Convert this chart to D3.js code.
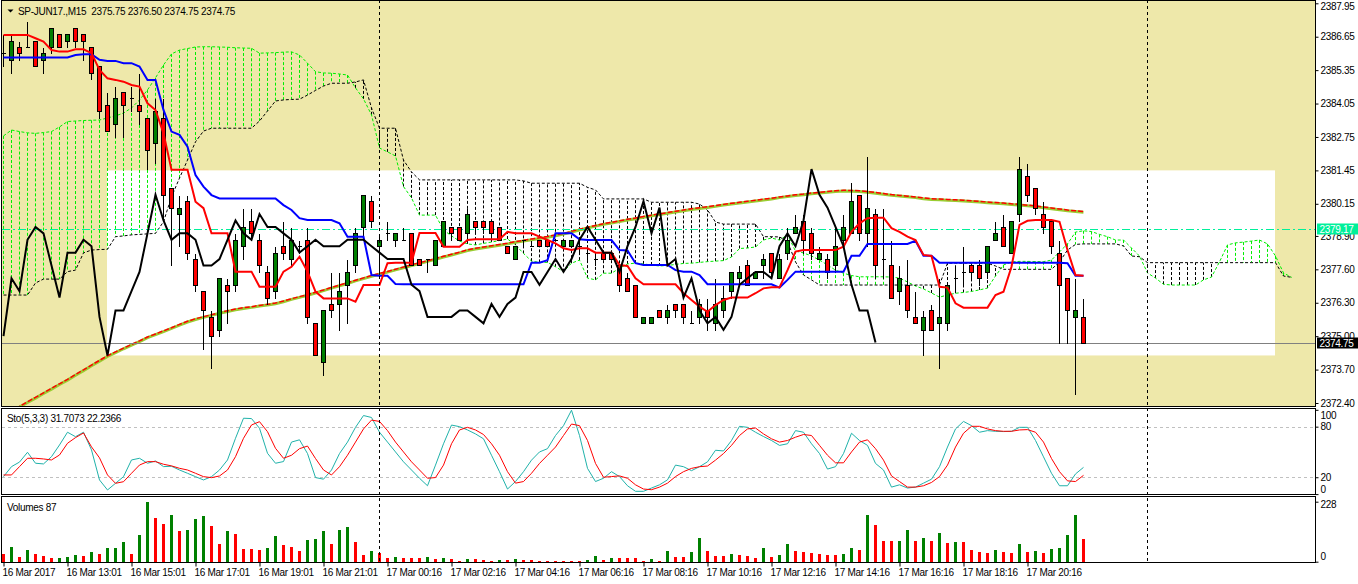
<!DOCTYPE html>
<html lang="en">
<head>
<meta charset="UTF-8">
<title>SP-JUN17.,M15</title>
<script src="https://d3js.org/d3.v7.min.js"></script>
<style>
  body { margin: 0; background: #fff; overflow: hidden; }
  svg text { font-family: "Liberation Sans", Arial, sans-serif; font-size: 10px; letter-spacing: -0.3px; fill: #000; }
</style>
</head>
<body>
<script>
// M15 bars, 16 Mar 2017 11:01 .. 17 Mar 2017 20:46
const open = [2386.00,2385.75,2386.25,2386.25,2386.50,2385.75,2386.25,2386.75,2386.50,2387.00,
  2386.75,2386.25,2385.50,2384.00,2383.25,2384.50,2384.25,2384.00,2383.50,2382.50,
  2383.50,2380.75,2379.75,2380.25,2378.00,2376.75,2375.75,2375.25,2377.00,2377.00,
  2378.50,2379.50,2378.75,2377.50,2376.75,2378.50,2378.00,2378.50,2378.75,2375.50,
  2374.00,2376.25,2376.25,2377.00,2377.75,2379.25,2380.25,2378.50,2379.00,2378.75,
  2378.75,2379.00,2378.00,2378.00,2377.75,2378.50,2379.25,2379.25,2379.00,2379.50,
  2379.50,2379.50,2379.25,2378.50,2378.00,2378.75,2378.50,2378.75,2378.75,2378.75,
  2378.50,2378.50,2378.50,2378.25,2378.00,2378.25,2378.25,2377.75,2377.25,2377.00,
  2375.50,2375.50,2376.00,2375.75,2376.25,2376.25,2375.50,2375.75,2376.00,2375.50,
  2376.00,2376.75,2377.25,2377.75,2377.25,2377.75,2378.25,2377.25,2378.25,2379.00,
  2379.50,2379.00,2378.00,2378.00,2377.75,2378.75,2379.00,2380.50,2379.00,2379.75,
  2378.00,2377.75,2376.75,2377.00,2375.75,2375.25,2376.00,2375.50,2375.50,2377.25,
  2377.50,2377.75,2377.75,2377.50,2378.75,2379.25,2378.25,2379.75,2381.25,2380.75,
  2379.75,2379.50,2378.25,2377.25,2375.75,2375.75];
const high = [2386.75,2386.75,2386.50,2387.25,2386.50,2386.25,2387.00,2386.75,2386.75,2387.00,
  2386.75,2386.25,2385.50,2384.50,2384.75,2384.50,2384.75,2385.25,2383.50,2384.25,
  2384.25,2380.75,2380.50,2380.50,2378.25,2376.75,2376.00,2377.25,2377.25,2379.00,
  2380.00,2380.00,2379.00,2377.75,2378.50,2379.50,2379.25,2378.75,2379.25,2375.50,
  2376.00,2377.50,2377.50,2378.00,2379.25,2380.50,2380.50,2379.00,2379.50,2379.00,
  2379.25,2379.00,2378.00,2378.00,2378.75,2379.50,2379.25,2379.25,2380.00,2379.50,
  2379.50,2379.50,2379.25,2378.50,2378.50,2378.75,2378.75,2378.75,2378.75,2378.75,
  2378.75,2378.75,2378.75,2378.50,2378.25,2378.25,2378.25,2377.75,2377.50,2377.00,
  2375.75,2375.75,2376.00,2376.25,2376.25,2376.25,2376.00,2376.50,2376.50,2377.25,
  2377.00,2377.50,2377.75,2378.00,2377.50,2378.25,2378.25,2378.25,2379.25,2379.75,
  2379.75,2379.25,2378.50,2378.25,2379.25,2379.75,2381.00,2380.50,2382.00,2380.00,
  2380.00,2378.75,2377.75,2378.00,2376.75,2376.00,2376.25,2377.25,2377.00,2377.75,
  2378.50,2377.75,2378.00,2378.50,2379.50,2379.75,2379.50,2382.00,2381.75,2380.75,
  2380.25,2379.50,2378.75,2377.25,2377.25,2376.50];
const low = [2385.50,2385.25,2385.75,2386.25,2385.50,2385.25,2386.00,2386.25,2386.25,2386.25,
  2385.75,2385.00,2383.50,2383.00,2382.75,2382.75,2383.75,2383.25,2381.50,2381.75,
  2379.50,2377.75,2378.50,2378.00,2376.75,2374.50,2373.75,2375.00,2375.50,2376.75,
  2378.00,2378.75,2377.50,2376.25,2376.50,2378.00,2377.75,2378.25,2375.50,2374.25,
  2373.50,2375.75,2375.25,2375.50,2377.50,2378.75,2379.25,2377.25,2378.75,2378.50,
  2378.75,2377.75,2377.75,2377.50,2377.75,2378.50,2378.75,2378.75,2378.75,2379.00,
  2379.00,2378.75,2378.75,2378.25,2378.00,2378.50,2378.50,2378.50,2378.50,2378.75,
  2378.50,2378.50,2378.25,2378.00,2377.75,2378.00,2378.00,2376.75,2376.75,2375.75,
  2375.50,2375.50,2375.75,2375.50,2375.75,2375.50,2375.50,2375.50,2375.25,2375.25,
  2375.75,2376.50,2377.00,2377.00,2377.25,2377.25,2377.25,2377.25,2378.00,2379.00,
  2378.25,2378.00,2378.00,2377.25,2377.50,2378.50,2379.00,2378.75,2378.50,2377.25,
  2377.25,2376.50,2376.25,2375.75,2375.50,2374.25,2375.25,2373.75,2375.25,2376.75,
  2377.00,2377.25,2377.00,2377.25,2378.75,2378.50,2378.25,2379.50,2380.25,2379.75,
  2379.00,2378.25,2374.75,2374.75,2372.75,2374.75];
const close = [2386.00,2386.50,2386.00,2386.25,2385.50,2386.00,2387.00,2386.25,2386.75,2386.50,
  2386.50,2385.25,2383.75,2383.00,2384.25,2384.00,2384.25,2383.75,2382.25,2383.75,
  2380.50,2380.00,2380.00,2378.25,2377.00,2376.00,2375.00,2377.25,2376.75,2378.75,
  2379.25,2379.00,2377.75,2376.50,2378.25,2378.25,2378.75,2378.50,2375.75,2374.25,
  2376.00,2376.00,2376.75,2377.50,2379.00,2380.50,2379.50,2378.75,2379.00,2379.00,
  2378.75,2377.75,2377.75,2378.00,2378.75,2379.50,2379.00,2378.75,2379.75,2379.25,
  2379.25,2379.00,2378.75,2378.25,2378.50,2378.75,2378.50,2378.50,2378.50,2378.75,
  2378.75,2378.75,2378.50,2378.25,2378.00,2378.00,2378.00,2377.00,2376.75,2375.75,
  2375.75,2375.75,2375.75,2376.00,2376.00,2375.75,2375.50,2376.25,2375.75,2376.25,
  2376.50,2377.50,2377.50,2377.00,2377.50,2378.00,2377.50,2378.00,2378.75,2379.25,
  2378.75,2378.25,2378.25,2377.50,2378.50,2379.25,2380.25,2379.00,2380.00,2377.75,
  2378.00,2376.50,2377.25,2376.00,2375.50,2375.75,2375.25,2375.75,2377.00,2377.25,
  2377.50,2377.50,2377.25,2378.50,2379.00,2378.50,2379.50,2381.50,2380.50,2380.00,
  2379.25,2378.50,2377.00,2376.00,2376.00,2374.75];
const volume = [29,56,18,44,29,22,14,15,18,25,
  22,37,29,52,53,75,29,101,228,166,
  143,177,117,120,162,174,136,67,117,105,
  48,48,44,52,98,63,54,39,84,88,
  115,69,122,130,73,24,39,32,14,16,
  15,14,13,16,9,13,12,4,12,9,
  5,4,5,5,12,5,5,4,4,4,
  4,4,4,5,20,5,13,13,13,13,
  4,9,4,39,17,16,38,91,41,20,
  20,31,24,20,13,52,17,27,66,41,
  38,34,31,27,27,31,52,45,176,140,
  77,77,80,119,77,91,80,109,70,73,
  73,45,38,34,45,38,34,66,38,41,
  34,48,52,101,179,87];

// Ichimoku lines
const tenkan = [2386.72,2386.72,2386.72,2386.72,2386.59,2386.46,2386.13,2386.07,2386.07,2386.16,
  2386.16,2386.01,2385.36,2385.03,2384.97,2384.90,2384.77,2384.71,2384.06,2383.80,
  2382.89,2381.47,2381.47,2381.47,2380.23,2379.98,2379.00,2379.00,2379.00,2377.51,
  2377.51,2377.51,2376.92,2376.92,2376.92,2377.51,2377.70,2378.09,2377.51,2376.73,
  2376.47,2376.47,2376.47,2376.47,2376.34,2376.99,2376.99,2376.99,2377.84,2377.86,
  2377.86,2377.86,2379.01,2379.01,2379.01,2378.48,2378.48,2378.48,2378.74,2378.77,
  2378.77,2378.77,2378.77,2379.06,2379.00,2379.00,2379.00,2378.87,2378.74,2378.61,
  2378.42,2378.35,2378.42,2378.42,2378.25,2378.25,2378.25,2377.77,2377.73,2377.25,
  2377.02,2377.02,2377.02,2377.02,2377.02,2376.67,2376.41,2376.15,2375.95,2376.21,
  2376.41,2376.50,2376.50,2376.50,2376.67,2376.86,2376.90,2376.90,2377.57,2378.29,
  2378.35,2378.35,2378.35,2378.35,2378.35,2378.48,2379.06,2379.39,2379.59,2379.61,
  2379.61,2379.20,2379.06,2378.87,2378.74,2378.16,2378.12,2376.92,2376.89,2376.28,
  2376.11,2376.11,2376.11,2376.11,2376.60,2376.73,2377.70,2379.33,2379.49,2379.52,
  2379.52,2379.52,2379.45,2378.35,2377.38,2377.35];
const kijun = [2385.84,2385.84,2385.84,2385.84,2385.84,2385.84,2385.84,2385.84,2385.84,2385.94,
  2385.97,2385.97,2385.75,2385.71,2385.71,2385.62,2385.62,2385.49,2384.97,2384.97,
  2383.80,2382.96,2382.83,2382.37,2381.27,2380.82,2380.49,2380.36,2380.36,2380.36,
  2380.36,2380.36,2380.36,2380.36,2380.36,2380.10,2379.91,2379.59,2379.52,2379.52,
  2379.52,2379.52,2379.39,2378.87,2378.87,2378.87,2377.38,2377.35,2377.35,2377.03,
  2377.02,2377.02,2377.02,2377.02,2377.02,2377.02,2377.02,2377.02,2377.02,2377.02,
  2377.02,2377.02,2377.02,2377.02,2377.02,2377.02,2377.86,2377.86,2377.96,2379.00,
  2379.00,2379.00,2378.77,2378.74,2378.74,2378.74,2378.74,2378.35,2378.33,2377.84,
  2377.77,2377.77,2377.77,2377.77,2377.57,2377.51,2377.51,2377.38,2377.02,2377.02,
  2377.02,2377.02,2377.02,2377.02,2377.02,2377.02,2377.02,2376.89,2377.19,2377.51,
  2377.51,2377.51,2377.51,2377.51,2377.51,2377.51,2378.13,2378.13,2378.59,2378.59,
  2378.59,2378.59,2378.59,2378.59,2378.71,2378.13,2378.13,2377.86,2377.86,2377.86,
  2377.86,2377.86,2377.86,2377.86,2377.86,2377.86,2377.86,2377.86,2377.86,2377.86,
  2377.86,2377.86,2377.86,2377.84,2377.35,2377.35];
// senkou spans run 26 bars past the last candle
const senkouA = [2382.79,2383.02,2382.96,2382.91,2382.89,2382.92,2382.96,2383.14,2383.35,2383.37,
  2383.39,2383.40,2383.41,2383.49,2383.57,2383.68,2383.88,2384.19,2384.58,2385.05,
  2385.55,2385.98,2386.13,2386.19,2386.25,2386.26,2386.26,2386.25,2386.24,2386.22,
  2386.21,2386.20,2386.01,2386.02,2386.03,2386.05,2386.06,2385.94,2385.62,2385.29,
  2385.24,2385.23,2385.20,2385.16,2384.66,2384.23,2383.61,2382.32,2382.17,2382.01,
  2380.82,2380.38,2379.71,2379.71,2379.71,2379.13,2378.90,2378.70,2378.59,2378.55,
  2378.61,2378.66,2378.72,2378.78,2378.55,2378.22,2377.92,2377.87,2377.87,2377.70,
  2377.51,2377.84,2377.96,2377.26,2377.19,2377.45,2377.45,2377.64,2377.81,2377.84,
  2377.81,2377.77,2377.73,2377.75,2377.79,2377.83,2377.84,2377.87,2377.90,2377.92,
  2377.94,2378.08,2378.41,2378.43,2378.47,2378.74,2378.82,2378.74,2378.94,2378.31,
  2378.24,2378.12,2377.96,2377.77,2377.57,2377.45,2377.36,2377.31,2377.31,2377.31,
  2377.31,2377.30,2377.26,2377.11,2376.95,2376.84,2376.68,2376.52,2376.60,2376.67,
  2376.70,2376.74,2376.80,2376.87,2377.34,2377.77,2377.89,2377.91,2377.91,2377.90,
  2377.90,2377.96,2378.28,2378.59,2379.05,2379.10,2379.07,2378.96,2378.87,2378.74,
  2378.74,2378.43,2378.12,2377.46,2377.26,2377.02,2376.99,2376.99,2376.99,2376.99,
  2377.19,2377.30,2377.89,2378.55,2378.63,2378.66,2378.70,2378.74,2378.59,2378.12,
  2377.46,2377.29];
const senkouB = [2376.60,2376.60,2376.60,2376.60,2377.07,2377.22,2377.22,2377.22,2377.51,2377.57,
  2378.24,2378.35,2378.37,2378.38,2378.87,2378.90,2378.94,2378.96,2378.98,2379.00,
  2379.45,2380.42,2381.15,2381.85,2382.56,2382.98,2383.09,2383.09,2383.09,2383.09,
  2383.09,2383.09,2383.37,2383.76,2384.15,2384.19,2384.21,2384.22,2384.38,2384.56,
  2384.73,2384.84,2384.84,2384.84,2384.89,2384.97,2383.88,2383.09,2383.09,2383.09,
  2381.85,2381.39,2381.08,2381.08,2381.08,2381.08,2381.08,2381.08,2381.08,2381.08,
  2381.08,2381.08,2381.08,2381.08,2381.08,2381.04,2380.95,2380.95,2380.95,2380.95,
  2380.95,2380.95,2380.95,2380.79,2380.69,2380.34,2380.34,2380.34,2380.34,2380.34,
  2380.34,2380.21,2380.21,2380.21,2380.21,2380.21,2380.21,2380.14,2379.91,2379.44,
  2379.36,2379.36,2379.36,2379.36,2379.36,2378.87,2378.87,2378.86,2378.68,2377.89,
  2377.38,2377.19,2376.99,2376.99,2376.99,2376.99,2376.99,2376.99,2376.99,2376.99,
  2376.99,2376.99,2376.99,2376.99,2376.99,2376.99,2376.99,2376.99,2377.84,2377.84,
  2377.84,2377.84,2377.84,2377.84,2377.73,2377.60,2377.60,2377.60,2377.60,2377.60,
  2377.60,2377.60,2377.89,2378.35,2378.57,2378.59,2378.59,2378.59,2378.59,2378.59,
  2378.51,2378.12,2378.09,2377.86,2377.86,2377.86,2377.86,2377.86,2377.86,2377.86,
  2377.86,2377.86,2377.86,2377.86,2377.86,2377.86,2377.86,2377.86,2377.86,2377.86,
  2377.34,2377.29];
const movingAvg = [2371.89,2372.09,2372.24,2372.42,2372.59,2372.77,2372.94,2373.12,2373.29,2373.48,
  2373.66,2373.85,2374.03,2374.21,2374.36,2374.51,2374.65,2374.79,2374.94,2375.06,
  2375.18,2375.30,2375.43,2375.55,2375.65,2375.73,2375.81,2375.89,2375.96,2376.03,
  2376.08,2376.12,2376.17,2376.21,2376.26,2376.34,2376.43,2376.51,2376.59,2376.68,
  2376.77,2376.87,2376.96,2377.05,2377.15,2377.24,2377.33,2377.41,2377.49,2377.58,
  2377.66,2377.75,2377.83,2377.91,2377.99,2378.08,2378.16,2378.24,2378.33,2378.39,
  2378.44,2378.49,2378.54,2378.59,2378.65,2378.70,2378.75,2378.80,2378.85,2378.91,
  2378.97,2379.05,2379.13,2379.21,2379.28,2379.35,2379.40,2379.46,2379.52,2379.57,
  2379.63,2379.68,2379.73,2379.78,2379.83,2379.88,2379.93,2379.97,2380.01,2380.05,
  2380.10,2380.14,2380.18,2380.22,2380.26,2380.30,2380.34,2380.39,2380.43,2380.47,
  2380.50,2380.54,2380.57,2380.60,2380.63,2380.65,2380.64,2380.63,2380.60,2380.56,
  2380.52,2380.48,2380.45,2380.42,2380.39,2380.35,2380.32,2380.31,2380.29,2380.28,
  2380.26,2380.24,2380.22,2380.19,2380.17,2380.15,2380.12,2380.10,2380.07,2380.04,
  2380.00,2379.96,2379.92,2379.88,2379.85,2379.82];

// Stochastic (5,3,3)
const stoMain = [20.7,32.6,38.0,49.6,36.6,35.8,44.4,58.3,73.4,68.1,
  73.4,52.4,16.8,4.9,12.8,20.7,40.5,42.5,36.6,39.3,
  32.6,33.0,28.6,24.7,20.7,16.8,20.7,28.6,40.5,66.2,
  90.0,89.6,78.1,48.4,36.6,38.6,61.7,64.4,48.1,19.6,
  17.7,28.6,48.1,61.7,79.2,93.2,90.9,73.4,61.7,50.0,
  38.3,28.6,18.8,9.9,34.4,59.7,81.9,80.0,76.1,71.4,
  65.6,46.1,26.6,6.0,14.9,26.6,40.3,50.0,53.9,69.5,
  81.2,99.5,69.5,30.5,14.9,18.8,26.6,20.8,9.9,3.3,
  3.3,7.2,11.0,16.9,34.4,32.5,27.8,32.5,38.3,52.0,
  51.2,63.6,80.4,79.2,73.4,68.3,63.6,57.8,59.7,75.3,
  73.4,59.7,48.1,29.7,32.5,48.1,72.2,63.6,57.8,36.4,
  28.6,8.3,11.0,7.2,8.3,13.0,17.7,32.5,55.8,77.3,
  86.2,81.2,73.4,75.3,74.5,74.2,74.5,79.2,79.2,63.6,
  44.2,24.7,9.9,9.9,23.9,31.7073];
const stoSignal = [22.7,22.7,32.6,42.5,42.5,41.7,40.5,46.4,60.3,67.0,
  72.5,56.0,43.0,22.7,12.8,14.7,24.7,34.5,38.5,38.5,
  35.4,33.5,30.6,28.6,24.7,20.7,19.5,21.5,28.6,44.4,
  66.2,82.0,85.9,74.0,54.3,42.5,46.1,53.9,57.0,42.2,
  28.6,22.7,32.5,46.1,61.7,77.3,87.8,86.2,75.3,61.7,
  50.0,38.3,28.6,18.8,19.6,34.4,59.7,76.1,79.2,76.1,
  70.7,59.7,46.1,26.6,13.0,14.9,24.7,36.4,46.1,55.8,
  69.5,83.1,81.2,63.6,36.4,20.0,20.8,21.6,18.8,11.0,
  6.0,5.2,8.3,13.0,20.8,26.6,30.5,32.5,33.3,40.3,
  48.1,57.8,69.5,77.3,78.4,71.4,65.6,61.7,63.6,67.5,
  70.7,69.5,57.8,46.1,37.1,37.1,50.0,61.7,64.4,53.9,
  40.3,21.6,14.9,8.3,8.3,9.9,13.8,20.8,34.4,55.8,
  72.2,80.4,80.4,77.3,75.3,74.5,74.5,76.1,76.5,73.4,
  61.7,42.2,26.6,15.7,14.9,22.2366];

// axis labels
const priceTicks = [2387.95,2386.65,2385.35,2384.05,2382.75,2381.45,2380.15,2378.90,2377.60,2376.30,2375.00,2373.70,2372.40];
const timeTicks = [0,8,16,24,32,40,48,56,64,72,80,88,96,104,112,120,128];
const timeLabels = ["16 Mar 2017","16 Mar 13:01","16 Mar 15:01","16 Mar 17:01","16 Mar 19:01","16 Mar 21:01",
  "17 Mar 00:16","17 Mar 02:16","17 Mar 04:16","17 Mar 06:16","17 Mar 08:16","17 Mar 10:16",
  "17 Mar 12:16","17 Mar 14:16","17 Mar 16:16","17 Mar 18:16","17 Mar 20:16"];
const stoLevels = [100, 80, 20, 0];
const volTicks = [228, 0];

// chart objects
const bidPrice = 2374.75;
const hLinePrice = 2379.17;
const separatorBars = [47, 143];
const boxBars = [13, 159];
const boxPrices = [2374.25, 2381.45];
const shift = 26;

// ---- layout ----
const W = 1358, H = 584;
const L = 2, R = 1315;
const mainTop = 1, mainBottom = 406;
const stoTop = 409, stoBottom = 494;
const volTop = 497, volBottom = 562;

const svg = d3.select("body").append("svg").attr("width", W).attr("height", H);

const x = d3.scaleLinear().domain([0, 161]).range([3.5, 3.5 + 8 * 161]);
const y = d3.scaleLinear().domain([2372.40, 2387.95]).range([403, 3.3]);
const yS = d3.scaleLinear().domain([0, 100]).range([494.1, 409.8]);
const yV = d3.scaleLinear().domain([0, 228]).range([561.7, 501.7]);

const defs = svg.append("defs");
[["main", mainTop, mainBottom], ["sto", stoTop, stoBottom], ["vol", volTop, volBottom]].forEach(([id, t, b]) => {
  defs.append("clipPath").attr("id", "clip-" + id)
    .append("rect").attr("x", L).attr("y", t).attr("width", R - L).attr("height", b - t);
});

svg.append("rect").attr("x", L).attr("y", mainTop).attr("width", R - L).attr("height", mainBottom - mainTop)
  .attr("fill", "#EEE8AA");

const gm = svg.append("g").attr("clip-path", "url(#clip-main)");

// white rectangle object
gm.append("rect")
  .attr("x", x(boxBars[0]) - 0.5).attr("width", x(boxBars[1]) - x(boxBars[0]))
  .attr("y", y(boxPrices[1])).attr("height", y(boxPrices[0]) - y(boxPrices[1]))
  .attr("fill", "#fff");

// kumo hatching
const cloudIdx = d3.range(senkouA.length);
gm.append("g").selectAll("line").data(cloudIdx).join("line")
  .attr("x1", i => x(i)).attr("x2", i => x(i))
  .attr("y1", i => y(senkouA[i])).attr("y2", i => y(senkouB[i]))
  .attr("stroke", i => senkouA[i] >= senkouB[i] ? "#00EE00" : "#000")
  .attr("stroke-dasharray", "3,2");

const lineOf = sc => d3.line().x((d, i) => x(i)).y(d => sc(d));

gm.append("path").attr("d", lineOf(y)(senkouA)).attr("fill", "none")
  .attr("stroke", "#00EE00").attr("stroke-dasharray", "3,2");
gm.append("path").attr("d", lineOf(y)(senkouB)).attr("fill", "none")
  .attr("stroke", "#000").attr("stroke-dasharray", "3,2");

// moving average (double line)
gm.append("path").attr("d", lineOf(y)(movingAvg)).attr("fill", "none")
  .attr("stroke", "#9ACD32").attr("stroke-width", 3);
gm.append("path").attr("d", lineOf(y)(movingAvg)).attr("fill", "none")
  .attr("stroke", "#FF0000").attr("stroke-width", 1.5).attr("stroke-dasharray", "5,2")
  .attr("transform", "translate(0,-0.7)");

// horizontal lines
gm.append("line").attr("x1", L).attr("x2", R)
  .attr("y1", Math.round(y(hLinePrice)) + 0.5).attr("y2", Math.round(y(hLinePrice)) + 0.5)
  .attr("stroke", "#00F09A").attr("stroke-dasharray", "8,3,2,3");
gm.append("line").attr("x1", L).attr("x2", R)
  .attr("y1", Math.round(y(bidPrice)) + 0.5).attr("y2", Math.round(y(bidPrice)) + 0.5)
  .attr("stroke", "#808080");

// candles
const bars = d3.range(open.length);
const py = v => Math.round(y(v)) + 0.5;
const cg = gm.append("g").attr("shape-rendering", "crispEdges");
cg.selectAll("line.wick").data(bars).join("line").attr("class", "wick")
  .attr("x1", i => x(i)).attr("x2", i => x(i))
  .attr("y1", i => py(high[i])).attr("y2", i => py(low[i]))
  .attr("stroke", "#000");
cg.selectAll("path.body").data(bars).join("path").attr("class", "body")
  .attr("d", i => {
    const t = py(Math.max(open[i], close[i])), b = py(Math.min(open[i], close[i]));
    return `M${x(i) - 2},${t}H${x(i) + 2}V${b}H${x(i) - 2}Z`;
  })
  .attr("fill", i => close[i] > open[i] ? "#008000" : (close[i] < open[i] ? "#FF0000" : "none"))
  .attr("stroke", "#000");

// kijun, tenkan, chikou
gm.append("path").attr("d", lineOf(y)(kijun)).attr("fill", "none")
  .attr("stroke", "#0000FF").attr("stroke-width", 2);
gm.append("path").attr("d", lineOf(y)(tenkan)).attr("fill", "none")
  .attr("stroke", "#FF0000").attr("stroke-width", 2);
gm.append("path").attr("d", lineOf(y)(close.slice(shift))).attr("fill", "none")
  .attr("stroke", "#000").attr("stroke-width", 2);

// ---- stochastic pane ----
const gs = svg.append("g").attr("clip-path", "url(#clip-sto)");
gs.selectAll("line.lvl").data([80, 20]).join("line").attr("class", "lvl")
  .attr("x1", L).attr("x2", R)
  .attr("y1", d => Math.round(yS(d)) + 0.5).attr("y2", d => Math.round(yS(d)) + 0.5)
  .attr("stroke", "#C0C0C0").attr("stroke-dasharray", "3,3");
gs.append("path").attr("d", lineOf(yS)(stoMain)).attr("fill", "none").attr("stroke", "#20B2AA");
gs.append("path").attr("d", lineOf(yS)(stoSignal)).attr("fill", "none").attr("stroke", "#FF0000");

// ---- volume pane ----
const gv = svg.append("g").attr("clip-path", "url(#clip-vol)").attr("shape-rendering", "crispEdges");
gv.selectAll("rect").data(bars).join("rect")
  .attr("x", i => x(i) - 1.5).attr("width", 3)
  .attr("y", i => Math.round(yV(volume[i])))
  .attr("height", i => Math.max(1, Math.round(yV(0)) - Math.round(yV(volume[i]))))
  .attr("fill", i => i > 0 && volume[i] > volume[i - 1] ? "#008000" : "#FF0000");

// period separators
svg.append("g").selectAll("line").data(separatorBars).join("line")
  .attr("x1", d => x(d)).attr("x2", d => x(d)).attr("y1", 0).attr("y2", volBottom)
  .attr("stroke", "#000").attr("stroke-dasharray", "3,3");

// pane borders
const frame = svg.append("g").attr("fill", "none").attr("stroke", "#000").attr("shape-rendering", "crispEdges");
[[0, mainBottom], [stoTop - 1, stoBottom], [volTop - 1, volBottom]].forEach(([t, b]) => {
  frame.append("rect").attr("x", L - 0.5).attr("y", t + 0.5).attr("width", R - L + 1).attr("height", b - t);
});

// ---- axes ----
const priceAxis = svg.append("g").attr("transform", `translate(${R + 0.5},0)`)
  .call(d3.axisRight(y).tickValues(priceTicks).tickSize(3).tickPadding(2).tickFormat(d3.format(".2f")));
// keep the top label inside the window, as the terminal does
priceAxis.selectAll(".tick text").attr("dy", d => d === priceTicks[0] ? "0.6em" : "0.32em");
const stoAxis = svg.append("g").attr("transform", `translate(${R + 0.5},0)`)
  .call(d3.axisRight(yS).tickValues(stoLevels).tickSize(3).tickPadding(2));
stoAxis.selectAll(".tick text").attr("dy", d => d === 100 ? "0.85em" : (d === 0 ? "-0.15em" : "0.32em"));
const volAxis = svg.append("g").attr("transform", `translate(${R + 0.5},0)`)
  .call(d3.axisRight(yV).tickValues(volTicks).tickSize(3).tickPadding(2));
volAxis.selectAll(".tick text").attr("dy", d => d === 0 ? "-0.2em" : "0.55em");
const timeAxis = svg.append("g").attr("transform", `translate(0,${volBottom + 0.5})`)
  .call(d3.axisBottom(x).tickValues(timeTicks).tickSize(4).tickPadding(2).tickFormat((d, i) => timeLabels[i]));
timeAxis.selectAll(".tick text").attr("text-anchor", "start").attr("x", -1.5);
[priceAxis, stoAxis, volAxis, timeAxis].forEach(a => {
  a.select(".domain").remove();
  a.attr("font-size", null).attr("font-family", null);
  a.selectAll("text").attr("fill", "#000");
  a.selectAll("line").attr("stroke", "#000");
});

// price tags on the scale
function tag(price, fillCol) {
  const yy = Math.round(y(price));
  svg.append("rect").attr("x", R + 2).attr("y", yy - 5.5).attr("width", W - R - 2).attr("height", 11)
    .attr("fill", fillCol);
  svg.append("text").attr("x", R + 4.5).attr("y", yy).attr("dy", "0.35em")
    .style("fill", "#fff").text(d3.format(".2f")(price));
}
tag(hLinePrice, "#00F09A");
tag(bidPrice, "#000");

// titles
svg.append("path").attr("d", "M7.5,9.5H13.5L10.5,12.5Z").attr("fill", "#000");
svg.append("text").attr("x", 18).attr("y", 15).style("white-space", "pre")
  .text(`SP-JUN17.,M15  ${open[open.length - 1].toFixed(2)} ${high[high.length - 1].toFixed(2)} ${low[low.length - 1].toFixed(2)} ${close[close.length - 1].toFixed(2)}`);
svg.append("text").attr("x", 7).attr("y", 421.5)
  .text(`Sto(5,3,3) ${stoMain[stoMain.length - 1].toFixed(4)} ${stoSignal[stoSignal.length - 1].toFixed(4)}`);
svg.append("text").attr("x", 7).attr("y", 510.5).text(`Volumes ${volume[volume.length - 1]}`);
</script>
</body>
</html>
